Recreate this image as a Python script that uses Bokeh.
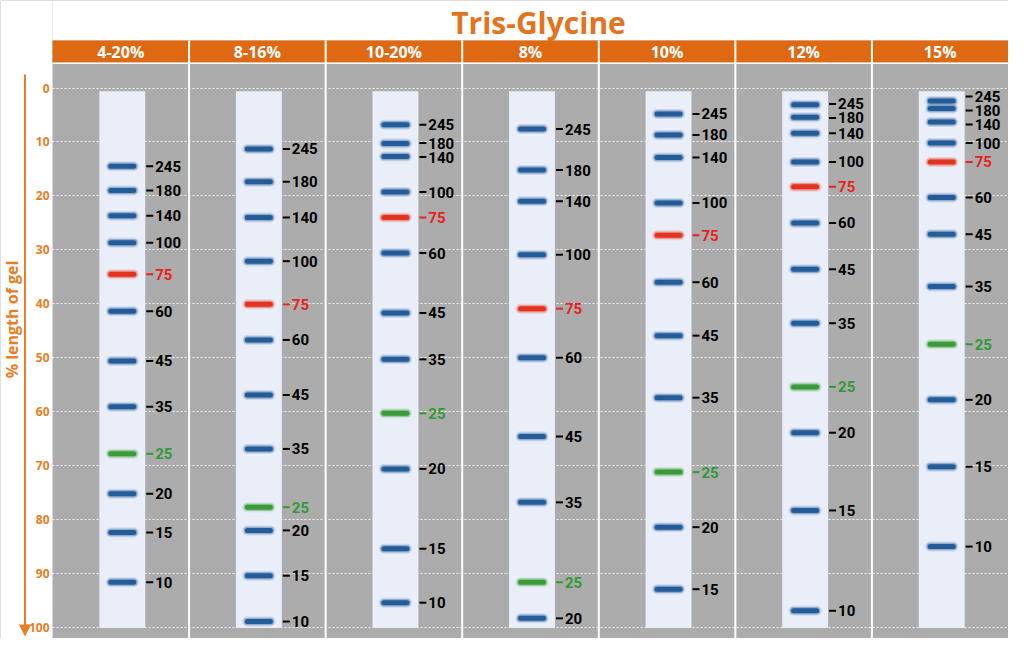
from bokeh.plotting import figure
from bokeh.models import ColumnDataSource, Range1d, FixedTicker
from bokeh.core.properties import value
from bokeh.embed import file_html
from bokeh.resources import INLINE

# ---------------- data ----------------
title = "Tris-Glycine"
panels = ["4-20%", "8-16%", "10-20%", "8%", "10%", "12%", "15%"]
markers = [245, 180, 140, 100, 75, 60, 45, 35, 25, 20, 15, 10]

# band migration, % length of gel, per panel (top marker first)
pos_4_20 = [14.5, 19.0, 23.7, 28.7, 34.5, 41.4, 50.6, 59.1, 67.8, 75.2, 82.4, 91.6]
pos_8_16 = [11.3, 17.4, 24.0, 32.1, 40.1, 46.7, 56.9, 66.9, 77.7, 82.0, 90.4, 98.9]
pos_10_20 = [6.8, 10.3, 12.7, 19.3, 24.0, 30.6, 41.7, 50.3, 60.3, 70.6, 85.4, 95.4]
pos_8 = [7.6, 15.2, 21.0, 30.9, 40.9, 50.0, 64.6, 76.8, 91.6, 98.3]
pos_10 = [4.8, 8.7, 12.9, 21.3, 27.3, 36.0, 45.9, 57.4, 71.2, 81.4, 92.9]
pos_12 = [3.1, 5.4, 8.4, 13.7, 18.3, 25.0, 33.6, 43.6, 55.4, 63.9, 78.3, 96.9]
pos_15 = [2.4, 3.8, 6.3, 10.2, 13.7, 20.3, 27.1, 36.8, 47.5, 57.8, 70.2, 85.0]
positions = [pos_4_20, pos_8_16, pos_10_20, pos_8, pos_10, pos_12, pos_15]

y_ticks = list(range(0, 101, 10))

# ---------------- styles ----------------
ORANGE_HDR = "#de6912"
ORANGE_TXT = "#e2731f"
ORANGE_AX = "#ea7d24"
GRAY = "#acacac"
LANE = "#eaeef8"
BLUE = "#235c98"
RED = "#e2331f"
GREEN = "#3a9b38"
RED_T = "#e8221c"
GREEN_T = "#2f9a37"

W, H = 1008, 638
LEFT = 52                    # canvas px where the first panel starts
Y0 = 87.5                    # canvas px of 0 %
PPU = (627.0 - Y0) / 100.0   # px per % unit (vertical)
PX = (W - LEFT) / 7.0        # px per panel (horizontal)
px = 1.0 / PX
x_start = -LEFT * px
y_top = -Y0 / PPU
y_bot = (H - Y0) / PPU
n = len(panels)
idx = list(range(n))


def cy(canvas_y):
    return (canvas_y - Y0) / PPU


p = figure(width=W, height=H, output_backend="svg", toolbar_location=None,
           x_range=Range1d(x_start, x_start + W * px), y_range=Range1d(y_bot, y_top),
           x_axis_location=None, min_border=0, min_border_left=0, min_border_right=0,
           min_border_top=0, min_border_bottom=0,
           background_fill_color=GRAY, border_fill_color="white")
p.outline_line_color = None

# y axis, drawn at the left edge of the first panel
ax = p.yaxis[0]
ax.fixed_location = 0
ax.ticker = FixedTicker(ticks=y_ticks)
ax.axis_line_color = None
ax.major_tick_line_color = None
ax.minor_tick_line_color = None
ax.major_tick_out = 0
ax.major_tick_in = 0
ax.major_label_standoff = 3
ax.major_label_text_color = ORANGE_AX
ax.major_label_text_font = "Open Sans"
ax.major_label_text_font_style = "bold"
ax.major_label_text_font_size = "12px"
ax.axis_label = "% length of gel"
ax.axis_label_text_color = ORANGE_AX
ax.axis_label_text_font = "Open Sans"
ax.axis_label_text_font_style = "bold"
ax.axis_label_text_font_size = "16px"
ax.axis_label_standoff = 3

p.xgrid.visible = False
p.ygrid.ticker = FixedTicker(ticks=y_ticks)
p.ygrid.grid_line_color = "white"
p.ygrid.grid_line_dash = "2 2"
p.ygrid.grid_line_width = 1
p.ygrid.grid_line_alpha = 0.85

hdr_top = cy(40)
hdr_bottom = cy(62)
gray_top = cy(63.5)
gap = 2 * px

# white surround (left margin and strip above headers)
p.quad(left=[x_start], right=[0], top=[y_top], bottom=[y_bot], fill_color="white", line_color=None)
p.quad(left=[0], right=[7], top=[y_top], bottom=[hdr_top], fill_color="white", line_color=None)

# headers
p.quad(left=idx, right=[i + 1 for i in idx], top=[hdr_top] * n, bottom=[hdr_bottom] * n,
       fill_color=ORANGE_HDR, line_color=None)
p.quad(left=[0], right=[7], top=[hdr_bottom], bottom=[gray_top], fill_color="white", line_color=None)
p.quad(left=[i - gap / 2 for i in range(1, n)], right=[i + gap / 2 for i in range(1, n)],
       top=[hdr_top] * (n - 1), bottom=[y_bot] * (n - 1), fill_color="white", line_color=None)
p.text(x=[i + 0.5 for i in idx], y=[cy(51.5)] * n, text=panels,
       text_color="white", text_align="center", text_baseline="middle",
       text_font=value("Open Sans"), text_font_style="bold", text_font_size="16px")

# title
p.text(x=[(538 - LEFT) * px], y=[cy(21.5)], text=[title], text_color=ORANGE_TXT,
       text_align="center", text_baseline="middle", text_font=value("Open Sans"),
       text_font_style="bold", text_font_size="30px")

# lanes
lane_l, lane_r = 0.343, 0.679
p.quad(left=[i + lane_l for i in idx], right=[i + lane_r for i in idx],
       top=[0.6] * n, bottom=[100.1] * n, fill_color=LANE, line_color=None)

# bands and labels
bx0, bx1, by, bc, lx0, lx1, ly, lt, ltc, tx = [], [], [], [], [], [], [], [], [], []
min_gap = 2.6
for i, pos in enumerate(positions):
    labs = markers[:len(pos)]
    c = i + (lane_l + lane_r) / 2
    ys = list(pos)
    for _ in range(30):
        for k in range(len(ys) - 1):
            d = ys[k + 1] - ys[k]
            if d < min_gap:
                s = (min_gap - d) / 2
                ys[k] -= s
                ys[k + 1] += s
    for k, (m, yv) in enumerate(zip(labs, pos)):
        col = RED if m == 75 else GREEN if m == 25 else BLUE
        tcol = RED_T if m == 75 else GREEN_T if m == 25 else "black"
        bx0.append(c - 11.5 * px); bx1.append(c + 11.5 * px); by.append(yv); bc.append(col)
        lx0.append(i + lane_r + 1 * px); lx1.append(i + lane_r + 8 * px)
        ly.append(ys[k]); lt.append(str(m)); ltc.append(tcol)
        tx.append(i + lane_r + 10 * px)

src = ColumnDataSource(dict(bx0=bx0, bx1=bx1, by=by, bc=bc, lx0=lx0, lx1=lx1,
                            ly=ly, lt=lt, ltc=ltc, tx=tx))
p.segment(x0="bx0", y0="by", x1="bx1", y1="by", line_color="bc", line_width=10,
          line_alpha=0.15, line_cap="round", source=src)
p.segment(x0="bx0", y0="by", x1="bx1", y1="by", line_color="bc", line_width=7.5,
          line_alpha=0.35, line_cap="round", source=src)
p.segment(x0="bx0", y0="by", x1="bx1", y1="by", line_color="bc", line_width=5,
          line_cap="round", source=src)
p.segment(x0="lx0", y0="ly", x1="lx1", y1="ly", line_color="ltc", line_width=2, source=src)
p.text(x="tx", y="ly", text="lt", text_color="ltc", text_align="left", text_baseline="middle",
       text_font=value("Roboto"), text_font_style="bold", text_font_size="15px", source=src)

# axis arrow
xa = (24.5 - LEFT) * px
tip = cy(636)
base = cy(624)
p.segment(x0=[xa], y0=[cy(74)], x1=[xa], y1=[base + 0.5], line_color=ORANGE_AX, line_width=2)
p.patch(x=[xa - 6 * px, xa + 6 * px, xa], y=[base, base, tip],
        fill_color=ORANGE_AX, line_color=None)

open("out.html", "w").write(file_html(p, INLINE))
